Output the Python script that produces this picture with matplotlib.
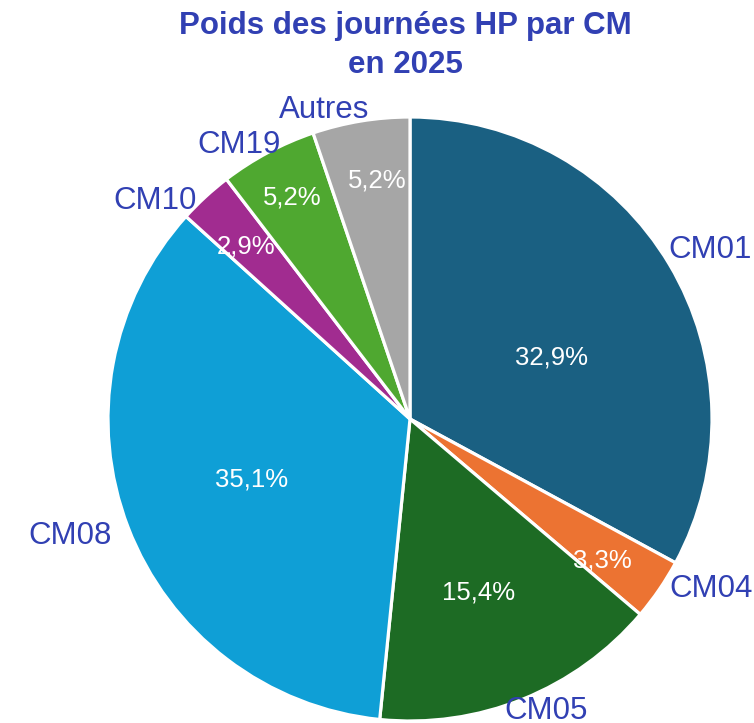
import matplotlib
matplotlib.use("Agg")
import matplotlib.pyplot as plt
import numpy as np

plt.rcParams['font.family'] = ['Liberation Sans', 'DejaVu Sans']

categories = ["CM01", "CM04", "CM05", "CM08", "CM10", "CM19", "Autres"]
values = [32.9, 3.3, 15.4, 35.1, 2.9, 5.2, 5.2]
pct_labels = ["32,9%", "3,3%", "15,4%", "35,1%", "2,9%", "5,2%", "5,2%"]
colors = ["#1a6082", "#ec7332", "#1d6b24", "#0f9fd6", "#a12c90", "#4fa830", "#a6a6a6"]
title_lines = ["Poids des journées HP par CM", "en 2025"]

# layout: radial distance (fraction of radius) and angular offset (deg) from slice middle
pct_dist = [0.513, 0.787, 0.611, 0.559, 0.794, 0.838, 0.805]
pct_off = [-6.4, -1.5, 0.0, -1.0, 0.5, -0.4, -1.7]
lab_dist = [1.144, 1.140, 1.058, 1.189, 1.118, 1.080, 1.073]
lab_off = [-0.9, 5.4, 3.3, -2.5, 6.4, 3.6, 6.0]

W, H = 754, 723
cx, cy, R = 410, 419, 302
fig = plt.figure(figsize=(W / 100, H / 100), dpi=100)
ax = fig.add_axes([0, 0, 1, 1])

text_color = "#3140b3"
lab_fs, pct_fs, title_fs = 22.5, 18.5, 22.5

wedges, _ = ax.pie(values, colors=colors, startangle=90, counterclock=False,
                   radius=1.0, frame=True,
                   wedgeprops=dict(edgecolor='white', linewidth=2.3))
ax.set_xlim(-cx / R, (W - cx) / R)
ax.set_ylim(-(H - cy) / R, cy / R)
ax.set_aspect('auto')
ax.axis('off')

def half_cap(fs):
    return 0.716 * fs * 100 / 72 / 2 / R

for w, lab, pl, pd, po, ld, lo in zip(wedges, categories, pct_labels,
                                      pct_dist, pct_off, lab_dist, lab_off):
    mid = (w.theta1 + w.theta2) / 2
    a = np.deg2rad(mid + po)
    ax.text(pd * np.cos(a), pd * np.sin(a) - half_cap(pct_fs), pl, ha='center',
            va='baseline', color='white', fontsize=pct_fs)
    a = np.deg2rad(mid + lo)
    ax.text(ld * np.cos(a), ld * np.sin(a) - half_cap(lab_fs), lab, ha='center',
            va='baseline', color=text_color, fontsize=lab_fs)

for line, base in zip(title_lines, [34.3, 72.7]):
    fig.text(405.5 / W, 1 - base / H, line, ha='center', va='baseline',
             color=text_color, fontsize=title_fs, fontweight='bold')

fig.savefig("out.png", dpi=100)
